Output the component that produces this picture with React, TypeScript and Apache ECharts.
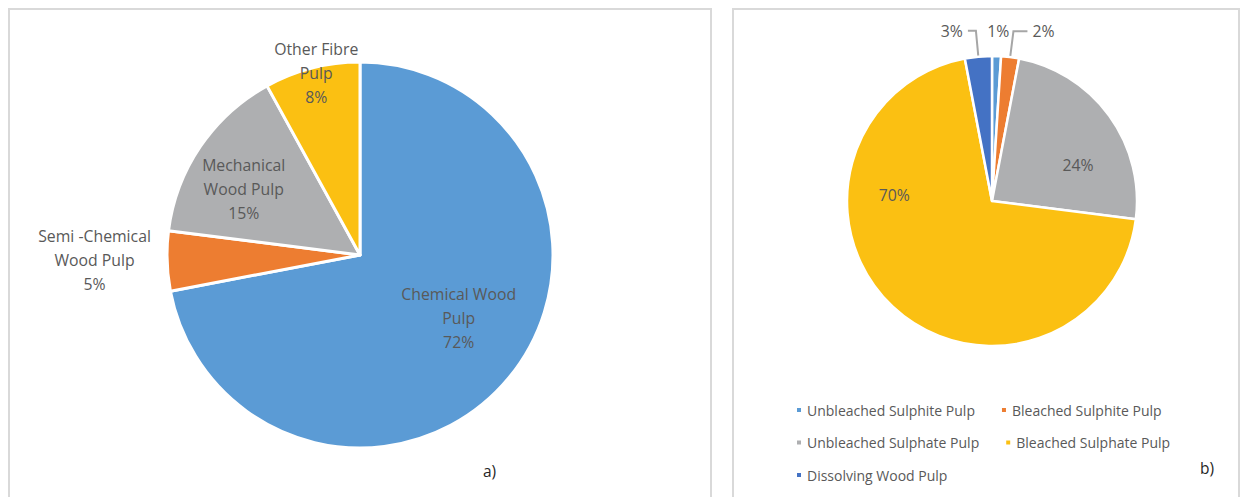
import React, { useEffect, useRef } from "react";
import * as echarts from "echarts";

const leftLabels = ["Chemical Wood\nPulp", "Semi -Chemical\nWood Pulp", "Mechanical\nWood Pulp", "Other Fibre\nPulp"];
const leftNames = ["Chemical Wood Pulp", "Semi-Chemical Wood Pulp", "Mechanical Wood Pulp", "Other Fibre Pulp"];
const leftValues = [72, 5, 15, 8];
const leftColors = ["#5B9BD5", "#ED7D31", "#AEAFB1", "#FBC012"];

const rightNames = [
  "Unbleached Sulphite Pulp",
  "Bleached Sulphite Pulp",
  "Unbleached Sulphate Pulp",
  "Bleached Sulphate Pulp",
  "Dissolving Wood Pulp",
];
const rightValues = [1, 2, 24, 70, 3];
const rightColors = ["#5B9BD5", "#ED7D31", "#AEAFB1", "#FBC012", "#4472C4"];

const TXT = "#595959";
const FONT = "'Open Sans', 'Noto Sans', sans-serif";

export default function App() {
  const ref = useRef<HTMLDivElement>(null);
  useEffect(() => {
    if (!ref.current) return;
    const chart = echarts.init(ref.current, null, { renderer: "svg" });
    const leftOffsets = [
      [22, 0],
      [-166, 2],
      [-34, -10],
      [-19, -86],
    ];
    const rightOffsets: Record<number, number[]> = {
      0: [4, -95],
      2: [25, 8],
      3: [-46, -61],
    };
    chart.setOption({
      animation: false,
      textStyle: { fontFamily: FONT },
      graphic: [
        { type: "rect", shape: { x: 9, y: 9, width: 702, height: 500 }, style: { fill: "none", stroke: "#D9D9D9", lineWidth: 2 } },
        { type: "rect", shape: { x: 733, y: 9, width: 506, height: 500 }, style: { fill: "none", stroke: "#D9D9D9", lineWidth: 2 } },
        { type: "text", x: 483, y: 463, style: { text: "a)", fontSize: 15.5, fill: "#262626", fontFamily: FONT } },
        { type: "text", x: 1200, y: 460, style: { text: "b)", fontSize: 15.5, fill: "#262626", fontFamily: FONT } },
      ],
      legend: [0, 1, 2].map((row) => ({
        data: rightNames.slice(row * 2, row * 2 + 2),
        left: 790,
        top: 398 + row * 32.5,
        orient: "horizontal",
        icon: "rect",
        itemWidth: 6,
        itemHeight: 6,
        itemGap: 25,
        textStyle: { color: TXT, fontSize: 14, fontFamily: FONT },
        selectedMode: false,
      })),
      series: [
        {
          type: "pie",
          center: [360, 255],
          radius: 193,
          startAngle: 90,
          clockwise: true,
          itemStyle: { borderColor: "#fff", borderWidth: 3 },
          label: {
            show: true,
            position: "inside",
            color: TXT,
            fontSize: 15.8,
            lineHeight: 24,
            fontFamily: FONT,
            overflow: "none",
            formatter: (p: any) => leftLabels[p.dataIndex] + "\n" + p.value + "%",
          },
          labelLayout: (p: any) => ({ dx: leftOffsets[p.dataIndex][0], dy: leftOffsets[p.dataIndex][1] }),
          data: leftValues.map((v, i) => ({ name: leftNames[i], value: v, itemStyle: { color: leftColors[i] } })),
        },
        {
          type: "pie",
          center: [992, 201],
          radius: 145,
          startAngle: 90,
          clockwise: true,
          avoidLabelOverlap: false,
          itemStyle: { borderColor: "#fff", borderWidth: 2.5 },
          label: {
            show: true,
            position: "inside",
            color: TXT,
            fontSize: 15.8,
            fontFamily: FONT,
            formatter: (p: any) => p.value + "%",
          },
          labelLine: { show: true, length: 26, length2: 14, lineStyle: { color: "#A6A6A6", width: 2 } },
          labelLayout: (p: any) => {
            const o = rightOffsets[p.dataIndex];
            return o ? { dx: o[0], dy: o[1] } : {};
          },
          data: rightValues.map((v, i) => {
            const outside = i === 1 || i === 4;
            return {
              name: rightNames[i],
              value: v,
              itemStyle: { color: rightColors[i] },
              label: outside ? { position: "outside", color: TXT, fontSize: 15.8 } : {},
              labelLine: outside ? { show: true, length: 26, length2: i === 4 ? 8 : 14 } : { show: false },
            };
          }),
        },
      ],
    });
    return () => chart.dispose();
  }, []);
  return <div ref={ref} style={{ position: "fixed", left: 0, top: 0, width: 1248, height: 497, background: "#fff" }} />;
}
